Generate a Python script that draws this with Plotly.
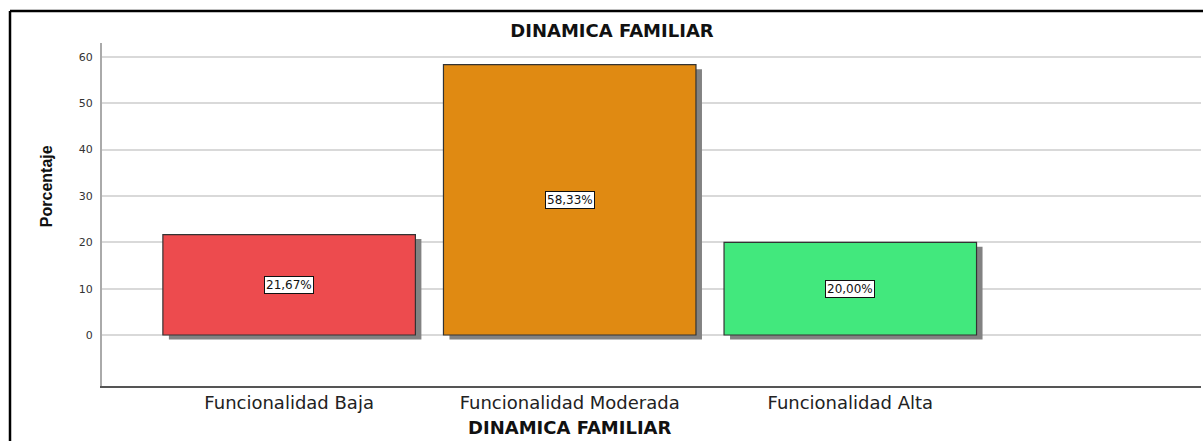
import plotly.graph_objects as go

# ---- data ----
categories = ["Funcionalidad Baja", "Funcionalidad Moderada", "Funcionalidad Alta"]
percentages = [21.67, 58.33, 20.00]
bar_colors = ["#ED4B4E", "#E08A12", "#42E87D"]
y_ticks = [0, 10, 20, 30, 40, 50, 60]
chart_title = "DINAMICA FAMILIAR"
x_title = "DINAMICA FAMILIAR"
y_title = "Porcentaje"

labels = [f"{v:.2f}".replace(".", ",") + "%" for v in percentages]

W, H = 1203, 441
ML, MR, MT, MB = 102, 2, 43, 55
PW, PH = W - ML - MR, H - MT - MB

y_range = [-11, 63]
x_range = [-0.667, 3.25]
bar_w = 0.9

# shadow offsets converted from pixels to data units
units_per_px_y = (y_range[1] - y_range[0]) / PH
units_per_px_x = (x_range[1] - x_range[0]) / PW
sh_dx = 6 * units_per_px_x
sh_dy = 4.5 * units_per_px_y

fig = go.Figure()

# shadow bars
fig.add_trace(go.Bar(
    x=categories, y=percentages,
    base=[-sh_dy] * len(percentages),
    width=bar_w, offset=-bar_w / 2 + sh_dx,
    marker=dict(color="#828282", line=dict(width=0)),
    hoverinfo="skip", showlegend=False,
))
# main bars
fig.add_trace(go.Bar(
    x=categories, y=percentages,
    width=bar_w, offset=-bar_w / 2,
    marker=dict(color=bar_colors, line=dict(color="#333333", width=1.2)),
    showlegend=False,
))

# value labels
for c, v, t in zip(categories, percentages, labels):
    fig.add_annotation(
        x=c, y=v / 2, xref="x", yref="y", text=t, showarrow=False,
        font=dict(family="DejaVu Sans", size=12, color="#111111"),
        bgcolor="white", bordercolor="#111111", borderwidth=1, borderpad=1,
    )

# x-axis title (centered under the categories)
fig.add_annotation(
    x=categories[len(categories) // 2], xref="x", y=-42 / PH, yref="paper",
    yanchor="middle", text=f"<b>{x_title}</b>", showarrow=False,
    font=dict(family="DejaVu Sans", size=18, color="#111111"),
)
# y-axis title
mid_tick = (min(y_ticks) + max(y_ticks)) / 2
fig.add_annotation(
    x=-66 / PW, xref="paper", y=mid_tick + 2, yref="y", textangle=-90,
    text=f"<b>{y_title}</b>", showarrow=False,
    font=dict(family="Liberation Sans", size=16, color="#111111"),
)

# outer frame lines (left and top)
left_x = (10 - ML) / PW
top_y = 1 + (MT - 11) / PH
fig.add_shape(type="line", xref="paper", yref="paper",
              x0=left_x, x1=left_x, y0=top_y, y1=-MB / PH - 0.01,
              line=dict(color="#000000", width=2.5))
fig.add_shape(type="line", xref="paper", yref="paper",
              x0=left_x, x1=1 + MR / PW + 0.01, y0=top_y, y1=top_y,
              line=dict(color="#000000", width=2.5))

fig.update_layout(
    width=W, height=H,
    margin=dict(l=ML, r=MR, t=MT, b=MB),
    paper_bgcolor="white", plot_bgcolor="white",
    barmode="overlay",
    title=dict(text=f"<b>{chart_title}</b>", x=(612 - ML) / PW, xref="paper",
               xanchor="center", y=1 - 31 / H, yanchor="middle",
               font=dict(family="DejaVu Sans", size=18, color="#111111")),
    xaxis=dict(
        type="category", range=x_range, showgrid=False,
        showline=True, linecolor="#555555", linewidth=1.5,
        ticks="", tickfont=dict(family="DejaVu Sans", size=18, color="#222222"),
        ticklabelstandoff=0,
    ),
    yaxis=dict(
        range=y_range, tickvals=y_ticks, showgrid=True,
        gridcolor="#d9d9d9", gridwidth=1.5, zeroline=False,
        showline=True, linecolor="#aaaaaa", linewidth=2,
        ticks="", tickfont=dict(family="DejaVu Sans", size=11, color="#333333"),
        ticklabelstandoff=5,
    ),
)

fig.write_html("out.html", config={"displayModeBar": False},
               post_script="document.body.style.margin='0';")
